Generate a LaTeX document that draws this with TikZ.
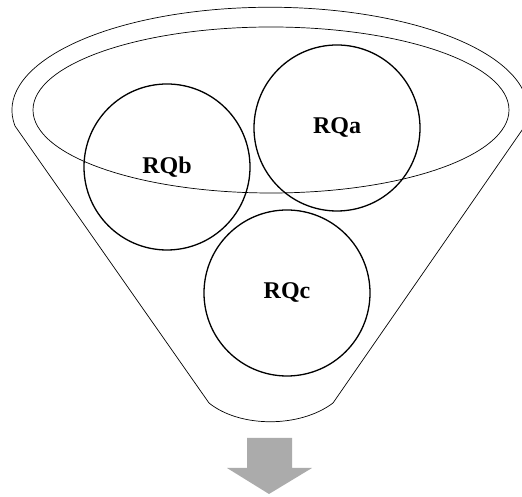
\documentclass[tikz,border=0pt]{standalone}
\usepackage{fontspec}
\setmainfont{Liberation Serif}
\begin{document}
\begin{tikzpicture}[x=1pt,y=1pt,
  funnelline/.style={draw=black,line width=0.7pt},
  rqcircle/.style={circle,draw=black,line width=1.3pt,minimum size=166pt,inner sep=0pt,
    font=\fontsize{24}{28}\selectfont\bfseries},
  outarrow/.style={fill=black!33,draw=none}]
\useasboundingbox (0,0) rectangle (522,497);
% funnel outline: rim arc, sloping sides and rounded spout
\draw[funnelline] (209,94) -- (15,371)
  arc[start angle=188.8,end angle=-8.8,x radius=258,y radius=103]
  -- (333,94) .. controls (300,69) and (240,69) .. (209,94) -- cycle;
% inner rim
\draw[funnelline] (271,387) ellipse[x radius=238,y radius=83];
% research questions
\node[rqcircle] (rqb) at (167,330) {RQb};
\node[rqcircle] (rqa) at (337,369) {RQa};
\node[rqcircle] (rqc) at (287,204) {RQc};
% output arrow
\fill[outarrow] (247,59) -- (292,59) -- (292,29) -- (312,29) -- (269,3)
  -- (227,29) -- (247,29) -- cycle;
\end{tikzpicture}
\end{document}
